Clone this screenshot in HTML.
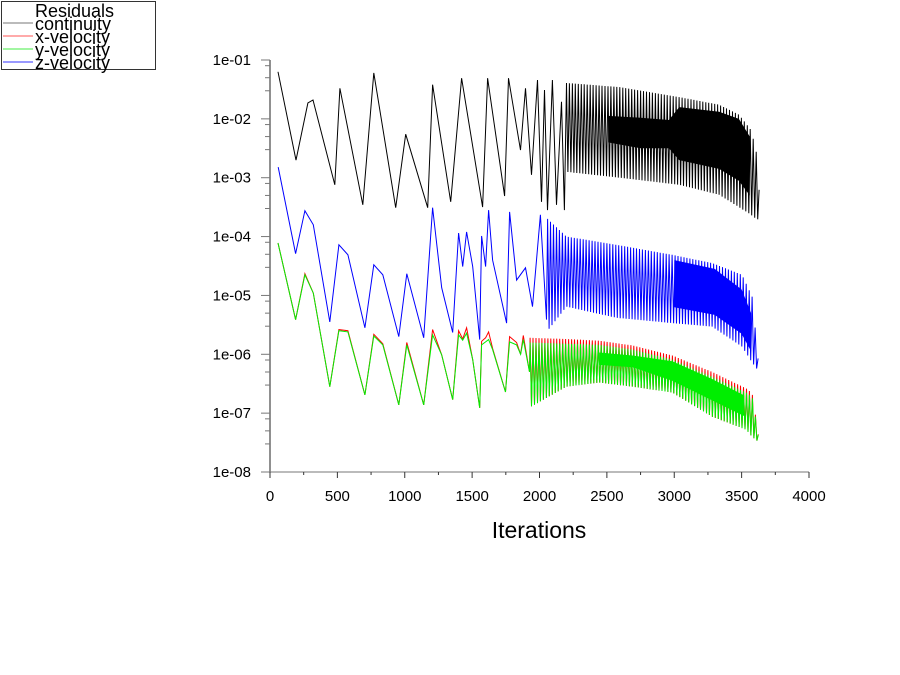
<!DOCTYPE html>
<html><head><meta charset="utf-8"><style>
html,body{margin:0;padding:0;background:#fff;width:900px;height:675px;overflow:hidden}
svg text{font-family:"Liberation Sans",Arial,sans-serif}
</style></head><body>
<svg id="chart" width="900" height="675" xmlns="http://www.w3.org/2000/svg">
<g id="legend">
<rect x="1.5" y="1.5" width="154" height="68" fill="#fff" stroke="#333"/>
<text x="35" y="17" font-size="18" fill="#000">Residuals</text>
<g><line x1="3" y1="23" x2="33" y2="23" stroke="#777"/><text x="35" y="30" font-size="18">continuity</text></g>
<g><line x1="3" y1="36" x2="33" y2="36" stroke="#f55"/><text x="35" y="43" font-size="18">x-velocity</text></g>
<g><line x1="3" y1="49" x2="33" y2="49" stroke="#4e4"/><text x="35" y="56" font-size="18">y-velocity</text></g>
<g><line x1="3" y1="62" x2="33" y2="62" stroke="#33f"/><text x="35" y="69" font-size="18">z-velocity</text></g>
</g>
<g id="plot"></g>
<g id="axes"></g>
</svg>
<script>
// ---- data ----
const xTicks=[0,500,1000,1500,2000,2500,3000,3500,4000];
const yTickExps=[-1,-2,-3,-4,-5,-6,-7,-8];
const yTickLabels=["1e-01","1e-02","1e-03","1e-04","1e-05","1e-06","1e-07","1e-08"];

// continuity
const contIter=[59,193,281,319,481,519,689,770,933,1007,1170,1207,1341,1422,1578,1615,1741,1770,1859,1896,1941,1985,2015,2037,2059,2096,2126,2163,2185];
const contLog=[-1.20,-2.70,-1.73,-1.68,-3.12,-1.48,-3.46,-1.22,-3.51,-2.26,-3.51,-1.42,-3.41,-1.31,-3.50,-1.31,-3.31,-1.31,-2.53,-1.48,-2.95,-1.34,-3.41,-1.51,-3.55,-1.34,-3.46,-1.71,-3.55];
const contEnvIter=[2200,2593,3037,3333,3481,3570,3607,3640];
const contEnvHi=[-1.39,-1.46,-1.63,-1.76,-1.93,-2.19,-2.53,-3.5];
const contEnvLo=[-2.90,-3.00,-3.12,-3.29,-3.50,-3.63,-3.70,-3.72];
const contBandIter=[2510,2750,2960,3037,3333,3480,3560];
const contBandHi=[-1.95,-1.98,-2.02,-1.80,-1.88,-2.0,-2.3];
const contBandLo=[-2.40,-2.50,-2.50,-2.70,-2.85,-3.05,-3.3];

// z-velocity
const zIter=[61,190,259,321,444,511,578,704,770,837,956,1015,1141,1207,1274,1356,1400,1430,1459,1504,1556,1570,1600,1622,1652,1756,1778,1830,1896,1948,2007,2052];
const zLog=[-2.82,-4.29,-3.56,-3.80,-5.45,-4.14,-4.31,-5.55,-4.48,-4.65,-5.70,-4.63,-5.72,-3.51,-4.87,-5.63,-3.94,-4.51,-3.92,-4.51,-5.75,-3.99,-4.51,-3.55,-4.40,-5.47,-3.58,-4.74,-4.53,-5.19,-3.63,-5.41];
const zEnvIter=[2060,2200,2570,2985,3281,3503,3578,3630];
const zEnvHi=[-3.7,-4.0,-4.14,-4.31,-4.45,-4.65,-5.02,-6.26];
const zEnvLo=[-5.6,-5.19,-5.38,-5.47,-5.53,-5.87,-6.14,-6.3];
const zBandIter=[3000,3300,3500,3570];
const zBandHi=[-4.40,-4.55,-4.90,-5.3];
const zBandLo=[-5.20,-5.33,-5.65,-5.95];

// y-velocity
const yIter=[59,190,259,321,444,511,578,704,770,837,956,1015,1141,1207,1274,1356,1400,1430,1459,1504,1556,1570,1600,1622,1652,1748,1778,1830,1860,1880,1926];
const yLog=[-4.11,-5.41,-4.65,-4.96,-6.55,-5.60,-5.62,-6.69,-5.69,-5.84,-6.86,-5.84,-6.86,-5.67,-6.01,-6.77,-5.67,-5.76,-5.64,-6.09,-6.91,-5.84,-5.79,-5.75,-5.92,-6.64,-5.79,-5.84,-6.0,-5.75,-6.3];
const yEnvIter=[1930,2200,2444,2690,2985,3281,3533,3578,3630];
const yEnvHi=[-5.8,-5.82,-5.84,-5.92,-6.09,-6.38,-6.65,-6.72,-7.45];
const yEnvLo=[-6.9,-6.55,-6.48,-6.55,-6.65,-7.06,-7.28,-7.40,-7.5];
const yBandIter=[2444,2690,2985,3281,3520];
const yBandHi=[-5.97,-6.02,-6.12,-6.42,-6.7];
const yBandLo=[-6.18,-6.22,-6.45,-6.78,-7.05];

// x-velocity
const xIter=[59,190,259,321,444,511,578,704,770,837,956,1015,1141,1207,1274,1356,1400,1430,1459,1504,1556,1570,1600,1622,1652,1748,1778,1830,1860,1880,1926];
const xLog=[-4.11,-5.41,-4.63,-4.96,-6.55,-5.58,-5.60,-6.69,-5.66,-5.82,-6.86,-5.80,-6.86,-5.58,-6.01,-6.77,-5.60,-5.74,-5.55,-6.09,-6.91,-5.78,-5.72,-5.62,-5.90,-6.64,-5.70,-5.80,-6.0,-5.68,-6.3];
const xEnvIter=[1930,2200,2444,2690,2985,3281,3533,3578,3630];
const xEnvHi=[-5.72,-5.74,-5.77,-5.85,-6.02,-6.30,-6.58,-6.66,-7.45];
const xEnvLo=[-6.9,-6.55,-6.48,-6.55,-6.65,-7.06,-7.28,-7.40,-7.5];

// ---- axis functions ----
const X0=270,X1=809,Y0=60,Y1=472;
const xs=v=>X0+(v/4000)*(X1-X0);
const ys=l=>Y0+(-1-l)/7*(Y1-Y0);
const NS="http://www.w3.org/2000/svg";
const plot=document.getElementById('plot'),axes=document.getElementById('axes');
function interp(ix,vals,t){
  if(t<=ix[0])return vals[0];
  for(let i=1;i<ix.length;i++){if(t<=ix[i]){const f=(t-ix[i-1])/(ix[i]-ix[i-1]);return vals[i-1]+f*(vals[i]-vals[i-1]);}}
  return vals[vals.length-1];
}
function mk(tag,attrs){const e=document.createElementNS(NS,tag);for(const k in attrs)e.setAttribute(k,attrs[k]);return e;}
function series(name,color,it,lg,eIt,eHi,eLo,bIt,bHi,bLo){
  const g=mk('g',{});
  
  
  let pts=it.map((v,i)=>xs(v).toFixed(1)+','+ys(lg[i]).toFixed(1));
  const step=11;let up=true;
  for(let t=eIt[0];t<=eIt[eIt.length-1];t+=step){
    const l=up?interp(eIt,eHi,t):interp(eIt,eLo,t);
    pts.push(xs(t).toFixed(1)+','+ys(l).toFixed(1));up=!up;
  }
  const pl=mk('polyline',{points:pts.join(' '),fill:'none',stroke:color,'stroke-width':1,'stroke-linejoin':'miter'});
  
  
  if(bIt){
    const top=bIt.map((v,i)=>xs(v).toFixed(1)+','+ys(bHi[i]).toFixed(1));
    const bot=bIt.map((v,i)=>xs(v).toFixed(1)+','+ys(bLo[i]).toFixed(1)).reverse();
    const band=mk('polygon',{points:top.concat(bot).join(' '),fill:color});
    
    
    g.appendChild(band);
  }
  g.appendChild(pl);plot.appendChild(g);
}
series('continuity','#000',contIter,contLog,contEnvIter,contEnvHi,contEnvLo,contBandIter,contBandHi,contBandLo);
series('z-velocity','#0000ff',zIter,zLog,zEnvIter,zEnvHi,zEnvLo,zBandIter,zBandHi,zBandLo);
series('x-velocity','#ff0000',xIter,xLog,xEnvIter,xEnvHi,xEnvLo,null);
series('y-velocity','#00ee00',yIter,yLog,yEnvIter,yEnvHi,yEnvLo,yBandIter,yBandHi,yBandLo);

// axes
const ya=mk('line',{x1:X0,y1:Y0,x2:X0,y2:Y1,stroke:'#222'});
axes.appendChild(ya);
const xa=mk('line',{x1:X0-8,y1:Y1,x2:X1,y2:Y1,stroke:'#777'});
axes.appendChild(xa);
yTickExps.forEach((e,i)=>{
  const y=ys(e);
  axes.appendChild(mk('line',{x1:X0-9,y1:y,x2:X0,y2:y,stroke:'#777'}));
  const t=mk('text',{x:251,y:y+5,'font-size':15,'text-anchor':'end',fill:'#000'});
  t.textContent=yTickLabels[i];
  
  
  axes.appendChild(t);
  if(e>-8){[3,5,8].forEach(k=>{const yy=ys(e-1+Math.log10(k));axes.appendChild(mk('line',{x1:X0-5,y1:yy,x2:X0,y2:yy,stroke:'#777'}));});}
});
xTicks.forEach((v,i)=>{
  const x=xs(v);
  axes.appendChild(mk('line',{x1:x,y1:Y1,x2:x,y2:Y1+6,stroke:'#333'}));
  if(i<xTicks.length-1){const xm=xs(v+250);axes.appendChild(mk('line',{x1:xm,y1:Y1,x2:xm,y2:Y1+3,stroke:'#333'}));}
  const t=mk('text',{x:x,y:501,'font-size':15,'text-anchor':'middle',fill:'#000'});
  t.textContent=String(v);
  
  
  axes.appendChild(t);
});
const xt=mk('text',{x:539,y:538,'font-size':23,'text-anchor':'middle',fill:'#000'});
xt.textContent='Iterations';


axes.appendChild(xt);
</script>
</body></html>
